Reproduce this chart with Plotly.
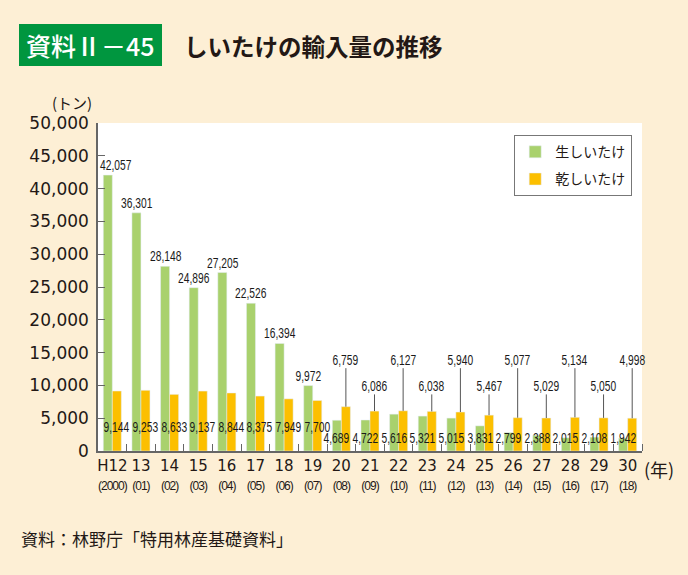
import plotly.graph_objects as go

# ---- data ----
years = ["H12", "13", "14", "15", "16", "17", "18", "19", "20", "21",
         "22", "23", "24", "25", "26", "27", "28", "29", "30"]
western = ["2000", "01", "02", "03", "04", "05", "06", "07", "08", "09",
           "10", "11", "12", "13", "14", "15", "16", "17", "18"]
fresh = [42057, 36301, 28148, 24896, 27205, 22526, 16394, 9972, 4689, 4722,
         5616, 5321, 5015, 3831, 2799, 2388, 2015, 2108, 1942]
dried = [9144, 9253, 8633, 9137, 8844, 8375, 7949, 7700, 6759, 6086,
         6127, 6038, 5940, 5467, 5077, 5029, 5134, 5050, 4998]
y_ticks = [0, 5000, 10000, 15000, 20000, 25000, 30000, 35000, 40000, 45000, 50000]

GREEN = "#a9d16d"
ORANGE = "#fcbf00"
TEXT = "#231815"
BG = "#fdefd5"
NUMFONT = "Liberation Sans, Arial, sans-serif"
JP = "Noto Sans CJK JP"

n = len(years)
idx = list(range(n))
W = 0.315

fig = go.Figure()
fig.add_bar(x=idx, y=fresh, name="生しいたけ", marker_color=GREEN, width=W, offset=-W,
            legendgroup="a")
fig.add_bar(x=idx, y=dried, name="乾しいたけ", marker_color=ORANGE, width=W, offset=0,
            legendgroup="b")

LBL = dict(family=NUMFONT, size=15.5, color="#1a1a1a")
ann = []
for i in idx:
    gx = i - W / 2
    ox = i + W / 2
    f = fresh[i]
    d = dried[i]
    if f > d:
        ann.append(dict(x=gx, y=f, text=f"{f:,}", showarrow=False, yanchor="bottom",
                        yshift=0, xshift=8 if i == 0 else 0, font=LBL))
        ann.append(dict(x=ox, y=3800, text=f"{d:,}", showarrow=False, font=LBL))
    else:
        ann.append(dict(x=gx, y=2100, text=f"{f:,}", showarrow=False, font=LBL))
        row = 14000 if (i - 8) % 2 == 0 else 10000
        ann.append(dict(x=ox, y=d, ax=ox, ay=row, axref="x", ayref="y",
                        text=f"{d:,}", showarrow=True, arrowhead=0, arrowwidth=1,
                        arrowcolor="#555", borderpad=0, standoff=0, font=LBL))


def px_x(p):
    return (p - 98) / 544


def px_y(p):
    return (451 - p) / 328


fig.add_shape(type="rect", xref="paper", yref="paper",
              x0=px_x(19), x1=px_x(162), y0=px_y(66), y1=px_y(24),
              fillcolor="#00963f", line=dict(width=0), layer="above")
ann += [
    dict(xref="paper", yref="paper", x=px_x(90.5), y=px_y(45), xanchor="center", yanchor="middle",
         text="資料Ⅱ－45", showarrow=False,
         font=dict(family=JP, size=25, color="white", weight=500)),
    dict(xref="paper", yref="paper", x=px_x(182), y=px_y(46), xanchor="left", yanchor="middle",
         text="しいたけの輸入量の推移", showarrow=False,
         font=dict(family=JP, size=23.5, color=TEXT, weight=700)),
    dict(xref="paper", yref="paper", x=px_x(72), y=px_y(102), xanchor="center", yanchor="middle",
         text="(トン)", showarrow=False, font=dict(family=JP, size=15, color=TEXT)),
    dict(xref="paper", yref="paper", x=px_x(659), y=px_y(469), xanchor="center", yanchor="middle",
         text="(年)", showarrow=False, font=dict(family=JP, size=18, color=TEXT)),
    dict(xref="paper", yref="paper", x=px_x(19), y=px_y(538), xanchor="left", yanchor="middle",
         text="資料：林野庁「特用林産基礎資料」", showarrow=False,
         font=dict(family=JP, size=17, color=TEXT)),
]

ticktext = [f"{y}<br><span style='font-size:12px;font-family:Liberation Sans;"
            f"letter-spacing:-1px'>({w})</span>"
            for y, w in zip(years, western)]

fig.update_layout(
    width=688, height=575,
    margin=dict(l=98, r=46, t=123, b=124),
    paper_bgcolor=BG, plot_bgcolor="white",
    font=dict(family="DejaVu Sans", color=TEXT),
    barmode="overlay",
    showlegend=True,
    legend=dict(x=px_x(514), y=px_y(135), xanchor="left", yanchor="top",
                bgcolor="white", bordercolor="#777", borderwidth=1.2,
                font=dict(family=JP, size=14, color=TEXT),
                traceorder="grouped", itemwidth=30, tracegroupgap=6),
    annotations=ann,
    xaxis=dict(range=[-0.5, n - 0.5], tickmode="array", tickvals=idx, ticktext=ticktext,
               tickangle=0, automargin=False,
               ticks="", showgrid=False, zeroline=False, showline=True,
               linecolor="#666", linewidth=1.5,
               tickfont=dict(family="DejaVu Sans", size=15, color=TEXT),
               minor=dict(tickmode="array", tickvals=[i + 0.5 for i in idx],
                          ticks="inside", ticklen=7, tickcolor="#666", tickwidth=1.2)),
    yaxis=dict(range=[0, 50000], tickmode="array", tickvals=y_ticks, automargin=False,
               ticktext=[f"{v:,}" for v in y_ticks], ticks="inside", ticklen=7,
               tickcolor="#666", tickwidth=1.2, showgrid=False, zeroline=False,
               showline=True, linecolor="#666", linewidth=1.5,
               tickfont=dict(family="DejaVu Sans", size=17, color=TEXT),
               ticklabelstandoff=4),
)

post = """
document.body.style.margin='0';document.body.style.overflow='hidden';
(function(){
  function sq(){
    document.querySelectorAll('g.annotation text.annotation-text').forEach(function(t){
      if(/^[0-9,]+$/.test(t.textContent.trim())){
        t.style.transformBox='fill-box';
        t.style.transformOrigin='center';
        t.style.transform='scaleX(0.66)';
      }
    });
  }
  sq();
  var gd=document.getElementById('{plot_id}');
  if(gd && gd.on){gd.on('plotly_afterplot', sq);}
  setTimeout(sq, 50); setTimeout(sq, 300);
})();
"""

fig.write_html("out.html", config={"displayModeBar": False}, post_script=post)
